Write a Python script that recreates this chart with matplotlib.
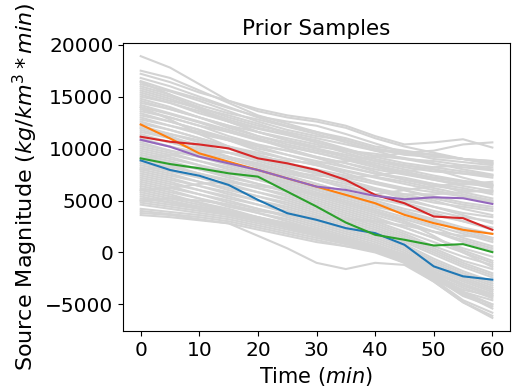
import numpy as np
import matplotlib
matplotlib.use("Agg")
import matplotlib.pyplot as plt

# time axis (min), samples read every 5 min
time = [0, 5, 10, 15, 20, 25, 30, 35, 40, 45, 50, 55, 60]

# prior samples, values in thousands (kg/km^3*min)
gray_k = [
    [18.9, 17.8, 16.2, 14.6, 13.6, 13.0, 12.6, 12.0, 11.0, 10.2, 9.6, 9.0, 8.6],
    [17.5, 16.8, 15.6, 14.4, 13.2, 12.4, 11.6, 10.8, 10.0, 9.6, 9.8, 10.4, 10.6],
    [17.2, 16.4, 15.4, 14.6, 13.8, 13.2, 12.8, 12.2, 11.2, 10.4, 10.6, 10.9, 10.1],
    [16.8, 16.0, 15.0, 14.0, 13.0, 12.2, 11.6, 11.0, 10.2, 9.8, 9.4, 9.0, 8.6],
    [16.5, 15.6, 14.8, 13.9, 13.1, 12.6, 12.2, 11.4, 10.5, 9.6, 9.0, 8.7, 8.4],
    [16.2, 15.5, 14.6, 13.6, 12.6, 11.8, 11.2, 10.8, 10.0, 9.4, 9.2, 9.0, 8.8],
    [16.0, 15.2, 14.2, 13.4, 12.8, 12.1, 11.4, 10.6, 9.8, 9.0, 8.5, 8.2, 7.9],
    [15.8, 15.0, 14.0, 13.0, 12.2, 11.6, 11.0, 10.4, 9.8, 9.6, 9.4, 9.0, 8.5],
    [15.6, 14.8, 13.8, 12.8, 12.0, 11.4, 10.8, 10.0, 9.2, 8.6, 8.2, 7.8, 7.4],
    [15.4, 14.6, 13.9, 13.2, 12.4, 11.5, 10.6, 9.9, 9.3, 9.0, 8.8, 8.4, 8.0],
    [15.2, 14.4, 13.4, 12.6, 11.9, 11.3, 10.6, 9.8, 9.0, 8.4, 8.0, 7.6, 7.2],
    [15.0, 14.4, 13.6, 12.6, 11.6, 10.8, 10.2, 9.8, 9.5, 9.1, 8.6, 8.0, 7.5],
    [14.8, 14.0, 13.0, 12.2, 11.6, 11.0, 10.4, 9.6, 8.8, 8.2, 7.8, 7.6, 7.4],
    [14.6, 13.8, 13.0, 12.2, 11.2, 10.4, 9.8, 9.2, 8.6, 8.0, 7.4, 6.9, 6.6],
    [14.4, 13.8, 13.0, 12.0, 11.2, 10.6, 10.0, 9.4, 8.8, 8.4, 8.0, 7.2, 6.5],
    [14.2, 13.4, 12.6, 11.8, 11.0, 10.2, 9.6, 9.0, 8.4, 7.8, 7.2, 6.8, 6.4],
    [14.0, 13.3, 12.5, 11.6, 10.8, 10.2, 9.6, 8.9, 8.2, 7.6, 7.2, 6.8, 6.2],
    [13.8, 13.0, 12.2, 11.6, 10.9, 10.0, 9.2, 8.6, 8.0, 7.5, 7.0, 6.4, 5.9],
    [13.6, 13.0, 12.2, 11.2, 10.4, 9.8, 9.2, 8.6, 7.8, 7.0, 6.4, 6.0, 5.8],
    [13.4, 12.6, 11.8, 11.0, 10.3, 9.8, 9.1, 8.3, 7.6, 7.0, 6.6, 6.2, 5.6],
    [13.2, 12.6, 11.8, 10.8, 10.0, 9.4, 8.8, 8.2, 7.6, 7.2, 6.6, 5.8, 5.2],
    [13.0, 12.2, 11.4, 10.8, 10.2, 9.4, 8.6, 7.9, 7.3, 6.8, 6.2, 5.6, 5.0],
    [12.8, 12.2, 11.6, 10.8, 9.8, 9.0, 8.4, 7.8, 7.2, 6.6, 6.0, 5.4, 4.8],
    [12.6, 11.8, 11.0, 10.2, 9.6, 9.0, 8.4, 7.6, 6.8, 6.2, 5.8, 5.4, 4.9],
    [12.4, 11.8, 11.0, 10.2, 9.4, 8.6, 8.0, 7.4, 6.8, 6.0, 5.2, 4.6, 4.2],
    [12.2, 11.4, 10.6, 10.0, 9.4, 8.6, 7.8, 7.2, 6.6, 6.0, 5.4, 4.8, 4.4],
    [12.0, 11.4, 10.8, 10.0, 9.0, 8.2, 7.6, 7.0, 6.2, 5.6, 5.0, 4.2, 3.6],
    [11.8, 11.0, 10.2, 9.6, 9.0, 8.4, 7.6, 6.8, 6.0, 5.4, 4.8, 4.4, 4.0],
    [11.6, 11.0, 10.4, 9.6, 8.8, 8.0, 7.2, 6.6, 6.0, 5.2, 4.4, 3.8, 3.4],
    [11.4, 10.6, 9.8, 9.2, 8.6, 7.8, 7.0, 6.2, 5.6, 5.0, 4.4, 3.6, 2.8],
    [11.2, 10.6, 10.0, 9.2, 8.4, 7.6, 7.0, 6.4, 5.6, 4.8, 4.0, 3.4, 3.0],
    [11.0, 10.2, 9.6, 9.0, 8.2, 7.4, 6.6, 5.8, 5.2, 4.6, 3.8, 3.0, 2.4],
    [10.8, 10.2, 9.4, 8.6, 8.0, 7.4, 6.6, 5.8, 5.0, 4.2, 3.6, 3.0, 2.2],
    [10.6, 9.8, 9.2, 8.6, 7.8, 7.0, 6.2, 5.6, 4.8, 4.0, 3.2, 2.4, 1.8],
    [10.4, 9.8, 9.2, 8.4, 7.6, 6.8, 6.2, 5.4, 4.6, 3.8, 3.0, 2.2, 1.4],
    [10.2, 9.6, 8.8, 8.0, 7.4, 6.8, 6.0, 5.2, 4.4, 3.8, 3.0, 2.0, 1.2],
    [10.0, 9.4, 8.8, 8.2, 7.4, 6.6, 5.8, 5.0, 4.2, 3.4, 2.6, 1.8, 1.0],
    [9.8, 9.2, 8.4, 7.6, 7.0, 6.4, 5.6, 4.8, 4.0, 3.2, 2.4, 1.4, 0.6],
    [9.6, 9.0, 8.4, 7.8, 7.0, 6.2, 5.4, 4.6, 3.8, 3.0, 2.0, 1.0, 0.2],
    [9.4, 8.8, 8.0, 7.2, 6.6, 6.0, 5.2, 4.4, 3.6, 2.8, 2.0, 1.2, 0.4],
    [9.2, 8.6, 8.0, 7.4, 6.6, 5.8, 5.0, 4.2, 3.4, 2.4, 1.4, 0.4, -0.4],
    [9.0, 8.4, 7.6, 6.8, 6.2, 5.6, 4.8, 4.0, 3.2, 2.4, 1.4, 0.2, -0.8],
    [8.8, 8.2, 7.6, 7.0, 6.2, 5.4, 4.6, 3.8, 3.0, 2.0, 1.0, 0.0, -1.0],
    [8.6, 8.0, 7.2, 6.4, 5.8, 5.2, 4.4, 3.6, 2.8, 1.8, 0.6, -0.4, -1.2],
    [8.4, 7.8, 7.2, 6.6, 5.8, 5.0, 4.2, 3.4, 2.6, 1.6, 0.4, -0.8, -1.6],
    [8.2, 7.6, 6.8, 6.0, 5.4, 4.8, 4.0, 3.2, 2.4, 1.4, 0.2, -1.0, -2.0],
    [8.0, 7.4, 6.8, 6.2, 5.4, 4.6, 3.8, 3.0, 2.2, 1.2, 0.0, -1.2, -2.2],
    [7.8, 7.2, 6.4, 5.6, 5.0, 4.4, 3.6, 2.8, 2.0, 1.0, -0.2, -1.4, -2.4],
    [7.6, 7.0, 6.4, 5.8, 5.0, 4.2, 3.4, 2.6, 1.8, 0.8, -0.6, -1.8, -2.8],
    [7.4, 6.8, 6.0, 5.2, 4.6, 4.0, 3.2, 2.4, 1.6, 0.6, -0.8, -2.0, -3.0],
    [7.2, 6.6, 6.0, 5.4, 4.6, 3.8, 3.0, 2.2, 1.4, 0.4, -1.0, -2.2, -3.2],
    [7.0, 6.4, 5.6, 4.8, 4.2, 3.6, 2.8, 2.0, 1.2, 0.2, -1.2, -2.4, -3.4],
    [6.8, 6.2, 5.6, 5.0, 4.2, 3.4, 2.6, 1.8, 1.0, 0.0, -1.4, -2.6, -3.6],
    [6.6, 6.0, 5.2, 4.4, 3.8, 3.2, 2.4, 1.6, 0.8, -0.2, -1.6, -2.8, -3.8],
    [6.4, 5.8, 5.2, 4.6, 3.8, 3.0, 2.2, 1.4, 0.6, -0.4, -1.8, -3.0, -4.0],
    [6.2, 5.6, 4.8, 4.0, 3.4, 2.8, 2.0, 1.2, 0.4, -0.6, -2.0, -3.2, -4.2],
    [6.0, 5.4, 4.8, 4.2, 3.4, 2.6, 1.8, 1.0, 0.2, -0.8, -2.2, -3.4, -4.4],
    [5.8, 5.2, 4.6, 4.0, 3.2, 2.4, 1.6, 0.9, 0.2, -0.8, -2.4, -3.8, -4.6],
    [5.6, 5.0, 4.4, 3.8, 3.2, 2.6, 1.8, 1.0, 0.2, -1.0, -2.6, -4.0, -5.0],
    [5.4, 4.8, 4.2, 3.6, 3.0, 2.4, 1.8, 1.2, 0.4, -0.8, -2.4, -3.6, -4.2],
    [5.2, 4.8, 4.4, 3.9, 3.4, 2.8, 2.2, 1.4, 0.6, -0.4, -1.8, -3.2, -4.0],
    [5.0, 4.6, 4.2, 3.7, 3.2, 2.6, 2.0, 1.2, 0.4, -0.6, -2.2, -4.0, -5.4],
    [4.8, 4.4, 4.0, 3.6, 3.0, 2.4, 1.8, 1.2, 0.6, -0.2, -1.4, -2.6, -3.6],
    [4.6, 4.2, 3.8, 3.4, 2.8, 2.2, 1.6, 1.0, 0.4, -0.4, -2.0, -3.8, -5.0],
    [4.2, 3.9, 3.6, 3.2, 2.6, 2.0, 1.4, 0.8, 0.2, -0.8, -2.6, -4.6, -5.8],
    [4.0, 3.7, 3.4, 3.0, 2.4, 1.8, 1.2, 0.6, 0.0, -1.0, -2.8, -4.8, -6.1],
    [3.6, 3.4, 3.1, 2.8, 1.6, 0.4, -1.0, -1.6, -1.0, -1.2, -2.8, -4.8, -6.3],
    [3.8, 3.6, 3.2, 2.8, 2.2, 1.6, 1.0, 0.6, 0.2, -0.6, -2.4, -4.2, -5.2],
    [9.0, 9.4, 9.8, 9.6, 9.2, 8.8, 8.6, 8.8, 9.2, 9.6, 9.4, 9.0, 8.8],
    [6.0, 6.2, 6.6, 6.8, 6.4, 6.0, 5.6, 5.4, 5.6, 6.0, 6.4, 6.6, 6.8],
    [12.0, 11.2, 10.2, 9.2, 8.4, 7.8, 7.4, 7.2, 7.4, 7.8, 8.2, 8.4, 8.2],
    [14.0, 12.8, 11.4, 10.2, 9.2, 8.4, 7.6, 6.8, 6.0, 5.6, 5.6, 5.8, 6.0],
    [8.0, 8.2, 8.2, 7.8, 7.2, 6.4, 5.6, 4.8, 4.0, 3.0, 1.6, 0.0, -1.4],
    [16.4, 15.2, 13.8, 12.6, 11.6, 10.8, 10.0, 9.2, 8.4, 7.6, 7.0, 6.6, 6.4],
    [5.0, 5.2, 5.0, 4.6, 4.0, 3.6, 3.4, 3.2, 3.0, 2.6, 2.0, 1.6, 1.4],
]

# highlighted samples (C0..C4)
blue = [8860, 7940, 7390, 6500, 5060, 3780, 3140, 2340, 1860, 740, -1340, -2300, -2620]
orange = [12320, 10980, 9540, 8740, 7940, 7140, 6340, 5540, 4740, 3620, 2820, 2180, 1790]
green = [9060, 8510, 8100, 7620, 7300, 5860, 4420, 2880, 1700, 1220, 670, 800, 30]
red = [11140, 10660, 10400, 10020, 9060, 8580, 7940, 6980, 5540, 4740, 3460, 3300, 2180]
purple = [10850, 10180, 9220, 8580, 7940, 7140, 6340, 6020, 5440, 5120, 5310, 5220, 4670]

fig = plt.figure(figsize=(5.13, 3.88), dpi=100)
ax = fig.add_axes([0.240, 0.147, 0.754, 0.742])

for row in gray_k:
    ax.plot(time, np.array(row) * 1000, color='lightgray', lw=1.5)

for ys in [blue, orange, green, red, purple]:
    ax.plot(time, ys, lw=1.5)

ax.set_title("Prior Samples", fontsize=15.5)
ax.set_xlabel("Time ($min$)", fontsize=15)
ax.set_ylabel("Source Magnitude ($kg/km^3*min$)", fontsize=16)
ax.set_xticks([0, 10, 20, 30, 40, 50, 60])
ax.set_yticks([-5000, 0, 5000, 10000, 15000, 20000])
ax.tick_params(labelsize=14.5)

fig.savefig("out.png", dpi=100)
